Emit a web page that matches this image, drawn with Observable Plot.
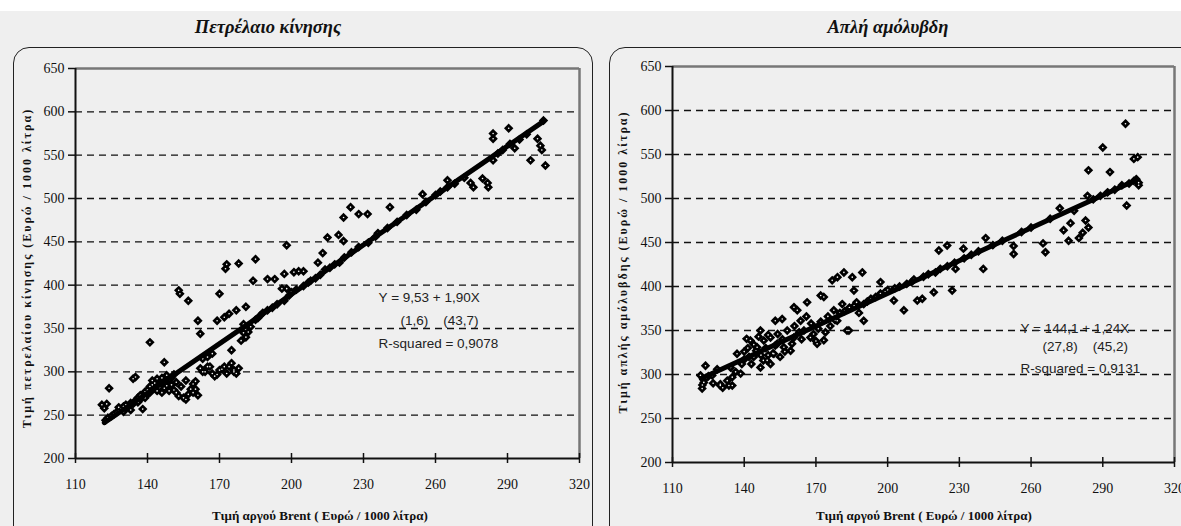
<!DOCTYPE html>
<html>
<head>
<meta charset="utf-8">
<script src="https://cdn.jsdelivr.net/npm/d3@7"></script>
<script src="https://cdn.jsdelivr.net/npm/@observablehq/plot@0.6"></script>
<style>
  html, body { margin: 0; padding: 0; background: #ffffff; }
  #wrap { position: relative; width: 1181px; height: 526px; overflow: hidden; background: #efefef; }
  #topstrip { position: absolute; left: 0; top: 0; width: 1181px; height: 11px; background: #ffffff; }
  .panel { position: absolute; border: 1.6px solid #222; border-radius: 16px; }
  .title { position: absolute; font-family: "Liberation Serif", serif; font-weight: bold; font-style: italic; font-size: 18.5px; color: #111; transform: translate(-50%, -50%); white-space: nowrap; }
  .ytitle { position: absolute; font-family: "Liberation Serif", serif; font-weight: bold; font-size: 12px; letter-spacing: 2px; color: #111; transform: translate(-50%, -50%) rotate(-90deg); white-space: nowrap; }
  .xtitle { position: absolute; font-family: "Liberation Serif", serif; font-weight: bold; font-size: 13px; color: #111; transform: translate(-50%, -50%); white-space: nowrap; }
  .plot { position: absolute; top: 0; }
</style>
</head>
<body>
<div id="wrap">
  <div id="topstrip"></div>
  <div class="panel" style="left:13px; top:47px; width:578px; height:500px;"></div>
  <div class="panel" style="left:609px; top:47px; width:600px; height:500px;"></div>
  <div class="title" style="left:268px; top:27px;">Πετρέλαιο κίνησης</div>
  <div class="title" style="left:888px; top:27px;">Απλή αμόλυβδη</div>
  <div class="ytitle" style="left:27px; top:268px;">Τιμή πετρελαίου κίνησης (Ευρώ / 1000 λίτρα)</div>
  <div class="ytitle" style="left:623px; top:262px;">Τιμή απλής αμόλυβδης (Ευρώ / 1000 λίτρα)</div>
  <div class="xtitle" style="left:320px; top:516px;">Τιμή αργού Brent ( Ευρώ / 1000 λίτρα)</div>
  <div class="xtitle" style="left:924px; top:516px;">Τιμή αργού Brent ( Ευρώ / 1000 λίτρα)</div>
  <div id="left" class="plot" style="left:0px;"></div>
  <div id="right" class="plot" style="left:590px;"></div>
</div>
<script>
// ---- Data ----
const xTicks = [110, 140, 170, 200, 230, 260, 290, 320];
const yTicks = [200, 250, 300, 350, 400, 450, 500, 550, 600, 650];
const gridY = [250, 300, 350, 400, 450, 500, 550, 600];

// Diesel (Πετρέλαιο κίνησης): Brent price vs diesel price
const dieselBrent = [121,122,123,124,122.5,123.5,125,126,127,128,128,129,130,130,131,131,132,133,133,134,134,135,135,136,136,137,137,138,138,139,139,140,140,141,141,141,142,142,143,143,144,144,145,145,146,146,147,147,147,148,148,149,149,150,150,151,151,152,152,153,153,153.5,154,155,156,156,157,157,158,159,159,160,160,161,161,162,162,163,163,164,165,165,166,167,167,168,169,169,170,170,171,172,172,172.5,173,173,174,174,175,175,176,176,177,177,178,178,179,180,180,181,181,182,183,184,185,185,186,187,188,190,190,192,193,194,196,197,197,198,198,199,200,201,202,203,205,205,207,208,210,211,212,213,214,215,216,218,219.6,220,221.7,221.7,222,224.6,225,228,228,231.7,232,235,236,240,241,244,248,252,254.6,256,260,262,265,265,268,272,274.6,275.8,279.6,281.7,282,284,284,284,286,288,290.5,291,293,295,298,299.6,302.5,303.7,304.3,305.8,305];
const dieselPrice = [262,258,263,281,244,247,249,251,253,255,259,257,254,260,258,262,261,256,264,263,292,294,267,265,270,268,273,257,272,270,277,274,279,334,283,276,285,290,281,287,278,292,286,282,293,276,311,289,281,296,284,291,278,293,285,297,279,288,276,272,394,390,283,270,268,290,382,274,280,276,286,280,289,273,359,344,304,300,315,300,306,317,306,298,321,295,297,359,390,302,303,363,306,419,424,298,367,306,325,310,300,302,298,371,304,425,336,345,355,340,375,346,352,405,430,360,362,365,368,407,371,374,407,378,396,382,413,446,396,388,392,415,395,416,416,399,403,405,408,426,412,437,418,455,420,424,458,426,451,478,432,490,438,482,444,482,449,456,460,466,490,473,481,487,505,496,504,508,521,513,517,524,518,513,523,518,513,575,569,544,552,556,581,563,558,568,574,544,569,561,556,538,590];

// Unleaded (Απλή αμόλυβδη): Brent price vs unleaded price
const petrolBrent = [121.7,122.4,123.1,123.8,122.5,124,125,126.6,127,128.7,130,130,131,132.9,133.6,135,135,134.3,136.4,137,138.5,139,140,140,141,141.5,142,142.6,143,144,144,145,145.4,146,146.8,146.8,147,148,148.2,149,149.6,150,150,151,151,152,152.4,153,153.8,153,154,155,155.9,156,156.6,157,158,159.4,160,160.8,160.8,161,162.2,163,163.6,164,165,166.3,166,167.7,168,169,170,170.5,171,172,172,173.3,173.3,174,175,176,176.8,177.5,178,178.9,179,180,181,181.7,182,183,183.8,184,185.2,185.9,186,187,188,189.4,190,190,191.5,193,195,197,197,199,200,202.6,203,205,206.8,208,210,211,212.4,214.5,215,217,219.3,220,221.4,222,224.9,225,227,228.4,228,231.7,232,235,238,240,241,244,248,252.7,252.7,256,260,265,266,268,272,273.6,275.7,276.5,278,280,281.6,282.8,284,283.6,284,286,289,290,292,293,295,298,299.5,300,301,303,304.6,303,305,305,304];
const petrolPrice = [299,284,291,310,288,296,298,299,290,306,287.5,289,285,293,287.5,287.5,297,308,303,323.5,301,312,317,326,340.5,330,320,338.6,312,320,334,327,331,343,308,350,322,316,338.6,330,316,322,345,342,312,324,323.5,333,335,361,346,320,363,340,331,326,350,327,335,376.5,342,355,373,348,361,340,350,382,366,342,358,346,338,335,352,389.8,360,339,388,348,366,355,407,373,362,361,410.6,370,380,416,372,350,350,376,410.6,395.4,378,382,370,416,361,380,383,386,388,405,392,394,396,384,398,400,373,403,405,408,384,386,411,414,393.5,416,441,420,446.6,423,395.4,420,427,443,432,436,440,420,455,447,452,446,437,462,467,449,439,477,489,464,452,472,486,455,461,475,467,503,532,499,503,558,507,530,510,515,585,492,517,545,547,520,518,515,522];

const dieselFitX = [122, 305];
const dieselFitY = [241.3, 589.0];
const petrolFitX = [122, 304];
const petrolFitY = [295.4, 521.1];

// Equation annotations
const dieselNoteText = ["Y = 9,53 + 1,90X", "(1,6)    (43,7)", "R-squared = 0,9078"];
const dieselNoteX = [236.3, 245.4, 236.3];
const dieselNoteY = [385.8, 359.0, 332.7];
const petrolNoteText = ["Y = 144,1 + 1,24X", "(27,8)    (45,2)", "R-squared = 0,9131"];
const petrolNoteX = [255.6, 264.8, 255.6];
const petrolNoteY = [352.3, 331.8, 306.8];

const frameTop = [650], frameRight = [320], frameLeft = [110], frameBottom = [200];

function zip(xs, ys) { return xs.map((x, i) => ({x, y: ys[i]})); }
function zipText(ts, xs, ys) { return ts.map((t, i) => ({t, x: xs[i], y: ys[i]})); }

function makePlot(opts) {
  const pts = zip(opts.px, opts.py);
  return Plot.plot({
    width: opts.width,
    height: 526,
    marginLeft: opts.ml,
    marginRight: opts.mr,
    marginTop: opts.mt,
    marginBottom: opts.mb,
    style: {background: "transparent", fontFamily: "'Liberation Serif', serif", fontSize: "14px", color: "#111", overflow: "visible"},
    x: {domain: [110, 320]},
    y: {domain: [200, 650]},
    marks: [
      Plot.ruleY(gridY, {stroke: "#111", strokeWidth: 1.3, strokeDasharray: "7,5"}),
      Plot.ruleY(frameTop, {stroke: "#777", strokeWidth: 2.5}),
      Plot.ruleX(frameRight, {stroke: "#777", strokeWidth: 2.5}),
      Plot.ruleX(frameLeft, {stroke: "#111", strokeWidth: 2}),
      Plot.ruleY(frameBottom, {stroke: "#111", strokeWidth: 2}),
      Plot.axisY({ticks: yTicks, tickSize: 7, tickPadding: 4, label: null, stroke: "#111", strokeWidth: 1.5, fontSize: 14}),
      Plot.axisX({ticks: xTicks, tickSize: 10, dy: -5, tickPadding: 16, label: null, stroke: "#111", strokeWidth: 1.5, fontSize: 14}),
      Plot.dot(pts, {x: "x", y: "y", symbol: "diamond2", r: 3.1, stroke: "#000", strokeWidth: 1.8, fill: "#000"}),
      Plot.dot(pts, {x: "x", y: "y", symbol: "circle", r: 0.8, fill: "#fff", stroke: "none"}),
      Plot.line(zip(opts.fx, opts.fy), {x: "x", y: "y", stroke: "#000", strokeWidth: 5}),
      Plot.text(zipText(opts.nt, opts.nx, opts.ny), {x: "x", y: "y", text: "t", textAnchor: "start", fontFamily: "'Liberation Sans', Arial, sans-serif", fontSize: 13.5, fill: "#222"})
    ]
  });
}

document.getElementById("left").appendChild(makePlot({
  width: 600, ml: 75, mr: 21, mt: 68, mb: 68,
  px: dieselBrent, py: dieselPrice, fx: dieselFitX, fy: dieselFitY,
  nt: dieselNoteText, nx: dieselNoteX, ny: dieselNoteY
}));
document.getElementById("right").appendChild(makePlot({
  width: 591, ml: 82, mr: 7, mt: 66, mb: 64,
  px: petrolBrent, py: petrolPrice, fx: petrolFitX, fy: petrolFitY,
  nt: petrolNoteText, nx: petrolNoteX, ny: petrolNoteY
}));
</script>
</body>
</html>
